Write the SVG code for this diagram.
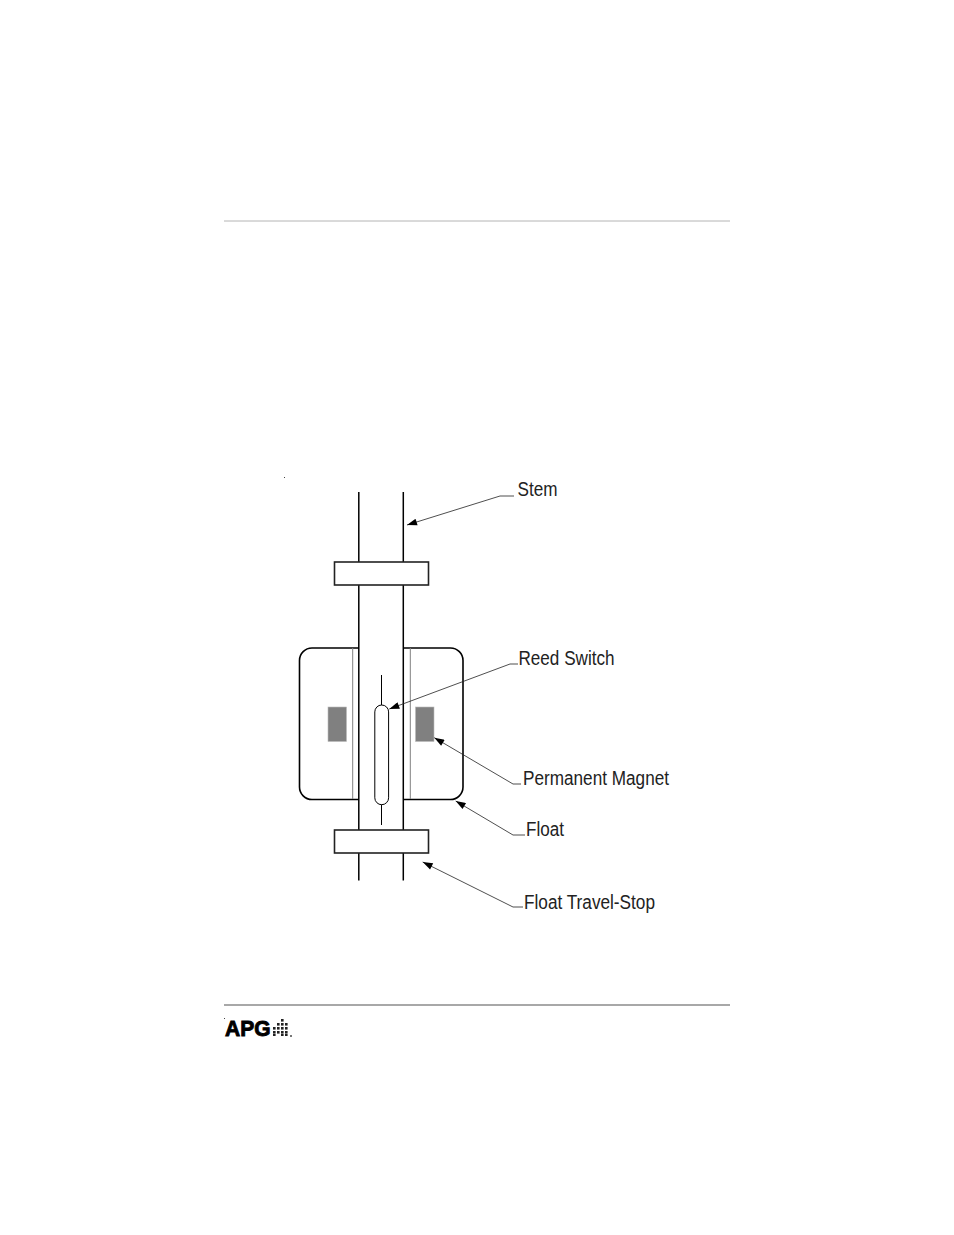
<svg xmlns="http://www.w3.org/2000/svg" width="954" height="1235" viewBox="0 0 954 1235">
<style>
text{font-family:"Liberation Sans",Arial,sans-serif;fill:#222}
.lbl{font-size:19.5px}
.k{fill:none;stroke:#000;stroke-width:1.5}
.g{fill:none;stroke:#808080;stroke-width:1}
.mag{fill:#808080;stroke:#bbb;stroke-width:.6}
.collar{fill:#fff;stroke:#222;stroke-width:1.6}
.lead{fill:none;stroke:#222;stroke-width:.8;marker-start:url(#a)}
.dot{fill:#222}
</style>
<defs>
<marker id="a" markerUnits="userSpaceOnUse" markerWidth="12" markerHeight="8" refX="0" refY="3.5" orient="auto"><path d="M0 3.5L10 0V7Z" fill="#000"/></marker>
</defs>
<rect width="954" height="1235" fill="#fff"/>
<g id="page-rules">
<line x1="224" y1="221" x2="730" y2="221" stroke="#b4b4b4" stroke-width="1"/>
<line x1="224" y1="1005" x2="730" y2="1005" stroke="#a8a8a8" stroke-width="2"/>
</g>
<rect x="284" y="477" width="1" height="1" fill="#444"/>
<g id="float">
<rect x="299.5" y="648" width="163.5" height="151.5" rx="12.5" fill="#fff" stroke="#000" stroke-width="1.6"/>
<rect x="359" y="640" width="44" height="170" fill="#fff"/>
<line class="g" x1="352.7" y1="648" x2="352.7" y2="799"/>
<line class="g" x1="410.3" y1="648" x2="410.3" y2="799"/>
</g>
<g id="permanent-magnet">
<rect class="mag" x="328" y="707" width="18.5" height="34.5"/>
<rect class="mag" x="415.5" y="707" width="18.5" height="34.5"/>
</g>
<g id="stem">
<line class="k" x1="358.8" y1="492" x2="358.8" y2="880.5"/>
<line class="k" x1="403.3" y1="492" x2="403.3" y2="880.5"/>
</g>
<g id="reed-switch">
<line x1="381.5" y1="675" x2="381.5" y2="825" stroke="#000" stroke-width="1"/>
<rect x="374.8" y="705" width="13.8" height="99.7" rx="6.9" fill="#fff" stroke="#000" stroke-width="1"/>
</g>
<g id="travel-stop">
<rect class="collar" x="334.5" y="562" width="94" height="23"/>
<rect class="collar" x="334.5" y="830" width="94" height="23"/>
</g>
<g id="connectors">
<polyline class="lead" points="407,525 500,496 514,496"/>
<polyline class="lead" points="389.3,709 510,664 518,664"/>
<polyline class="lead" points="434.3,737.7 513,784 521,784"/>
<polyline class="lead" points="455.7,801 513,835 525,835"/>
<polyline class="lead" points="422.7,862 513,907 523,907"/>
</g>
<g id="labels">
<text class="lbl" x="517.5" y="496" textLength="40" lengthAdjust="spacingAndGlyphs">Stem</text>
<text class="lbl" x="518.5" y="665" textLength="96" lengthAdjust="spacingAndGlyphs">Reed Switch</text>
<text class="lbl" x="523" y="785" textLength="146" lengthAdjust="spacingAndGlyphs">Permanent Magnet</text>
<text class="lbl" x="526" y="836" textLength="38" lengthAdjust="spacingAndGlyphs">Float</text>
<text class="lbl" x="524" y="909" textLength="131" lengthAdjust="spacingAndGlyphs">Float Travel-Stop</text>
</g>
<g id="apg-logo">
<rect x="224" y="1018" width="1" height="1" fill="#444"/>
<text x="225" y="1036" font-size="22" font-weight="700" style="fill:#000" stroke="#000" stroke-width=".9" textLength="45.5" lengthAdjust="spacingAndGlyphs">APG</text>
<g class="dot">
<rect x="281" y="1019" width="2.6" height="2.6"/>
<rect x="277" y="1023" width="2.6" height="2.6"/><rect x="281" y="1023" width="2.6" height="2.6"/><rect x="285" y="1023" width="2.6" height="2.6"/>
<rect x="273" y="1027" width="2.6" height="2.6"/><rect x="277" y="1027" width="2.6" height="2.6"/><rect x="281" y="1027" width="2.6" height="2.6"/><rect x="285" y="1027" width="2.6" height="2.6"/>
<rect x="273" y="1031" width="2.6" height="2.6"/><rect x="277" y="1031" width="2.6" height="2.6"/><rect x="281" y="1031" width="2.6" height="2.6"/><rect x="285" y="1031" width="2.6" height="2.6"/>
<rect x="273" y="1034" width="2.6" height="2"/><rect x="281" y="1034" width="2.6" height="2"/><rect x="285" y="1034" width="2.6" height="2"/>
</g>
<rect x="290" y="1035" width="2" height="2" fill="#777"/>
</g>
</svg>
